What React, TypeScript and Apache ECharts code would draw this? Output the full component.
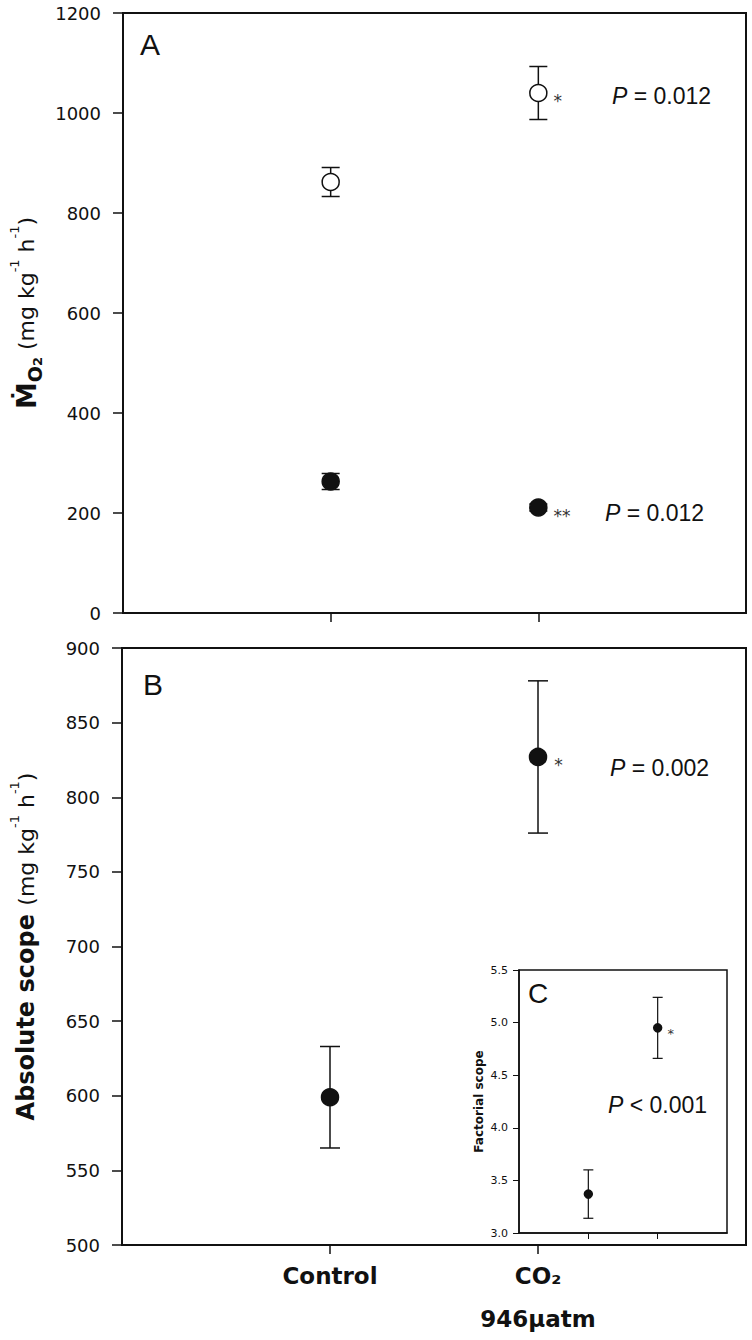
import React, { useEffect, useRef } from "react";
import * as echarts from "echarts";

// ---------- data ----------
const groupLabels = ["Control", "CO₂\n946μatm"];
const groupX = [1, 2];

// Panel A: MO2 (mg kg-1 h-1)
const mo2MaxMean = [862, 1040];
const mo2MaxSE = [29, 53];
const mo2MaxSig = ["", "*"];
const mo2RestMean = [263, 211];
const mo2RestSE = [16, 7];
const mo2RestSig = ["", "**"];

// Panel B: absolute scope
const absMean = [599, 827];
const absSE = [34, 51];
const absSig = ["", "*"];

// Panel C: factorial scope
const factMean = [3.37, 4.95];
const factSE = [0.23, 0.29];
const factSig = ["", "*"];

// axis ticks
const yTicksA = [0, 200, 400, 600, 800, 1000, 1200];
const yTicksB = [500, 550, 600, 650, 700, 750, 800, 850, 900];
const yTicksC = [3.0, 3.5, 4.0, 4.5, 5.0, 5.5];

const pTexts = ["0.012", "0.012", "0.002", "0.001"];

const FONT = "DejaVu Sans";
const SANS = "Liberation Sans";
const INK = "#111";

function errorSeries(xi: number, means: number[], ses: number[], cap: number, lw: number) {
  return {
    type: "custom",
    xAxisIndex: xi,
    yAxisIndex: xi,
    silent: true,
    z: 2,
    encode: { x: 0, y: [1, 2] },
    data: groupX.map((x, i) => [x, means[i] - ses[i], means[i] + ses[i]]),
    renderItem: (_p: any, api: any) => {
      const x = api.value(0);
      const lo = api.coord([x, api.value(1)]);
      const hi = api.coord([x, api.value(2)]);
      const style = { stroke: INK, lineWidth: lw };
      return {
        type: "group",
        children: [
          { type: "line", shape: { x1: lo[0], y1: lo[1], x2: hi[0], y2: hi[1] }, style },
          { type: "line", shape: { x1: lo[0] - cap, y1: lo[1], x2: lo[0] + cap, y2: lo[1] }, style },
          { type: "line", shape: { x1: hi[0] - cap, y1: hi[1], x2: hi[0] + cap, y2: hi[1] }, style },
        ],
      };
    },
  };
}

function pointSeries(
  xi: number,
  means: number[],
  sigs: string[],
  size: number,
  fill: string,
  sigSize: number,
  sigDist: number
) {
  return {
    type: "scatter",
    xAxisIndex: xi,
    yAxisIndex: xi,
    symbol: "circle",
    symbolSize: size,
    z: 3,
    itemStyle: { color: fill, borderColor: INK, borderWidth: 1.5, opacity: 1 },
    label: {
      show: true,
      position: "right",
      distance: sigDist,
      color: "#333",
      fontFamily: FONT,
      fontSize: sigSize,
      offset: [0, Math.round(sigSize * 0.45)],
      formatter: (p: any) => sigs[p.dataIndex],
    },
    data: groupX.map((x, i) => [x, means[i]]),
  };
}

function yAxisBase(gi: number, ticks: number[], fontSize: number, tickLen: number, margin: number, decimals: number) {
  return {
    gridIndex: gi,
    type: "value",
    min: ticks[0],
    max: ticks[ticks.length - 1],
    interval: ticks[1] - ticks[0],
    splitLine: { show: false },
    axisLine: { show: true, lineStyle: { color: INK, width: gi === 2 ? 1.5 : 2 } },
    axisTick: { show: true, inside: false, length: tickLen, lineStyle: { color: INK, width: gi === 2 ? 1 : 1.5 } },
    axisLabel: {
      margin,
      color: INK,
      fontFamily: FONT,
      fontSize,
      formatter: (v: number) => v.toFixed(decimals),
    },
  };
}

function xAxisBase(gi: number, tickLen: number, labels: boolean) {
  return {
    gridIndex: gi,
    type: "value",
    min: 0,
    max: 3,
    splitLine: { show: false },
    axisLine: { show: true, lineStyle: { color: INK, width: gi === 2 ? 1.5 : 2 } },
    axisTick: {
      show: true,
      inside: false,
      length: tickLen,
      customValues: groupX,
      lineStyle: { color: INK, width: gi === 2 ? 1 : 1.5 },
    },
    axisLabel: labels
      ? {
          show: true,
          customValues: groupX,
          margin: 9,
          color: INK,
          fontFamily: FONT,
          fontWeight: "bold",
          fontSize: 23,
          lineHeight: 43,
          formatter: (v: number) => groupLabels[groupX.indexOf(v)] ?? "",
        }
      : { show: false },
  };
}

function pText(x: number, y: number, op: string, val: string) {
  return {
    type: "text",
    x,
    y,
    z: 10,
    style: {
      text: `{i|P}{n| ${op} ${val}}`,
      verticalAlign: "middle",
      align: "left",
      fill: INK,
      fontFamily: SANS,
      fontSize: 23,
      rich: {
        i: { fontFamily: SANS, fontSize: 23, fontStyle: "italic", fill: INK },
        n: { fontFamily: SANS, fontSize: 23, fill: INK },
      },
    },
  };
}

function letter(x: number, y: number, t: string, size: number) {
  return {
    type: "text",
    x,
    y,
    z: 10,
    style: { text: t, fontFamily: SANS, fontSize: size, fill: INK, verticalAlign: "middle", align: "left" },
  };
}

const unitRich = {
  r: { fontFamily: FONT, fontSize: 22, lineHeight: 36, color: INK },
  sup: { fontFamily: FONT, fontSize: 13, lineHeight: 13, verticalAlign: "top", color: INK },
};

const option: any = {
  animation: false,
  backgroundColor: "#fff",
  grid: [
    { left: 123, top: 13, width: 623, height: 600, show: true, borderColor: INK, borderWidth: 2 },
    { left: 122, top: 648, width: 624, height: 601, show: true, borderColor: INK, borderWidth: 2 },
    { left: 519, top: 970, width: 208, height: 263, show: true, borderColor: INK, borderWidth: 1.5, backgroundColor: "#fff" },
  ],
  xAxis: [xAxisBase(0, 9, false), xAxisBase(1, 9, true), xAxisBase(2, 6, false)],
  yAxis: [
    {
      ...yAxisBase(0, yTicksA, 18, 10, 22, 0),
      name: "{m|Ṁ}{o|O}{o2|2}{r| (mg kg}{sup|-1}{r| h}{sup|-1}{r|)}",
      nameLocation: "middle",
      nameGap: 60,
      nameTextStyle: {
        rich: {
          m: { fontFamily: FONT, fontWeight: "bold", fontSize: 27, lineHeight: 36, color: INK },
          o: { fontFamily: FONT, fontWeight: "bold", fontSize: 19, lineHeight: 19, verticalAlign: "bottom", color: INK },
          o2: { fontFamily: FONT, fontWeight: "bold", fontSize: 13, lineHeight: 13, verticalAlign: "bottom", color: INK },
          ...unitRich,
        },
      },
    },
    {
      ...yAxisBase(1, yTicksB, 18, 10, 22, 0),
      name: "{b|Absolute scope }{r|(mg kg}{sup|-1}{r| h}{sup|-1}{r|)}",
      nameLocation: "middle",
      nameGap: 78,
      nameTextStyle: {
        rich: {
          b: { fontFamily: FONT, fontWeight: "bold", fontSize: 24, lineHeight: 36, color: INK },
          ...unitRich,
        },
      },
    },
    {
      ...yAxisBase(2, yTicksC, 11, 6, 11, 1),
      name: "Factorial scope",
      nameLocation: "middle",
      nameGap: 34,
      nameTextStyle: { fontFamily: FONT, fontWeight: "bold", fontSize: 12, color: INK },
    },
  ],
  graphic: [
    letter(140, 44, "A", 30),
    letter(143, 684, "B", 30),
    letter(528, 993, "C", 28),
    pText(612, 96, "=", pTexts[0]),
    pText(605, 513, "=", pTexts[1]),
    pText(610, 768, "=", pTexts[2]),
    pText(608, 1105, "<", pTexts[3]),
  ],
  series: [
    errorSeries(0, mo2MaxMean, mo2MaxSE, 9, 1.5),
    pointSeries(0, mo2MaxMean, mo2MaxSig, 17, "#fff", 17, 6),
    errorSeries(0, mo2RestMean, mo2RestSE, 9, 1.5),
    pointSeries(0, mo2RestMean, mo2RestSig, 17, INK, 17, 6),
    errorSeries(1, absMean, absSE, 10, 1.5),
    pointSeries(1, absMean, absSig, 17, INK, 17, 7),
    errorSeries(2, factMean, factSE, 5, 1.2),
    pointSeries(2, factMean, factSig, 8, INK, 13, 5),
  ],
};

export default function App() {
  const ref = useRef<HTMLDivElement>(null);
  useEffect(() => {
    document.body.style.margin = "0";
    const chart = echarts.init(ref.current!, null, { renderer: "svg" });
    chart.setOption(option);
    return () => chart.dispose();
  }, []);
  return <div ref={ref} style={{ width: 752, height: 1340 }} />;
}
